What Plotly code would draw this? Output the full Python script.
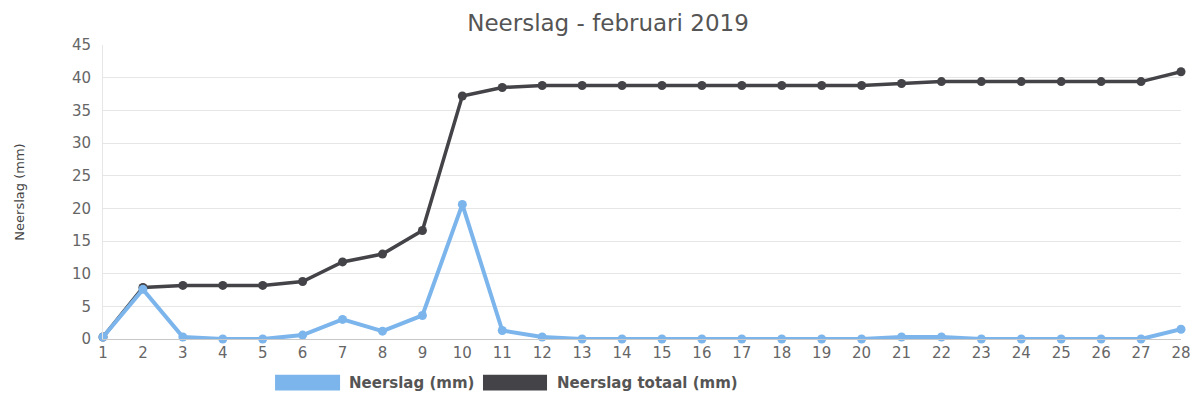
import plotly.graph_objects as go

days = list(range(1, 29))
neerslag = [0.3, 7.6, 0.3, 0.0, 0.0, 0.6, 3.0, 1.2, 3.6, 20.6, 1.3, 0.3, 0.0, 0.0,
            0.0, 0.0, 0.0, 0.0, 0.0, 0.0, 0.3, 0.3, 0.0, 0.0, 0.0, 0.0, 0.0, 1.5]
totaal = [0.3, 7.9, 8.2, 8.2, 8.2, 8.8, 11.8, 13.0, 16.6, 37.2, 38.5, 38.8, 38.8, 38.8,
          38.8, 38.8, 38.8, 38.8, 38.8, 38.8, 39.1, 39.4, 39.4, 39.4, 39.4, 39.4, 39.4, 40.9]
series_names = ["Neerslag (mm)", "Neerslag totaal (mm)"]
colors = ["#7cb5ec", "#434348"]
y_ticks = list(range(0, 50, 5))

FONT = "DejaVu Sans"

fig = go.Figure()
fig.add_trace(go.Scatter(x=days, y=totaal, mode="lines+markers", name=series_names[1],
                         line=dict(color=colors[1], width=3.5),
                         marker=dict(color=colors[1], size=9), showlegend=False,
                         cliponaxis=False))
fig.add_trace(go.Scatter(x=days, y=neerslag, mode="lines+markers", name=series_names[0],
                         line=dict(color=colors[0], width=4),
                         marker=dict(color=colors[0], size=9), showlegend=False,
                         cliponaxis=False))

# manual legend (wide colour rectangles as in the reference)
legend_items = [
    (0.1596, 0.2199, 0.2265, series_names[0], colors[0]),
    (0.3525, 0.4119, 0.4190, series_names[1], colors[1]),
]
for x0, x1, xt, label, col in legend_items:
    fig.add_shape(type="rect", xref="paper", yref="paper", x0=x0, x1=x1,
                  y0=-0.175, y1=-0.122, fillcolor=col, line=dict(width=0))
    fig.add_annotation(xref="paper", yref="paper", x=xt, y=-0.1485, text=f"<b>{label}</b>",
                       showarrow=False, xanchor="left", yanchor="middle",
                       font=dict(family=FONT, size=15, color="#555555"))

fig.update_layout(
    width=1200, height=400,
    margin=dict(l=95, r=27, t=37, b=69, autoexpand=False),
    paper_bgcolor="white", plot_bgcolor="white",
    title=dict(text="Neerslag - februari 2019", x=0.5, xanchor="center",
               yref="container", y=0.962, yanchor="middle", automargin=False,
               font=dict(family=FONT, size=23, color="#555555")),
    xaxis=dict(range=[1, 28], tickmode="array", tickvals=days, ticktext=[str(d) for d in days],
               showgrid=False, zeroline=False, showline=True, linecolor="#c8c8c8", linewidth=1,
               ticks="", automargin=False,
               tickfont=dict(family=FONT, size=15, color="#666666"), fixedrange=True),
    yaxis=dict(range=[0, 45], tickmode="array", tickvals=y_ticks, showgrid=True,
               gridcolor="#e6e6e6", gridwidth=1, zeroline=False, showline=True,
               linecolor="#e6e6e6", ticks="", ticklabelstandoff=8, automargin=False,
               tickfont=dict(family=FONT, size=15, color="#666666"),
               title=dict(text="Neerslag (mm)", standoff=44,
                          font=dict(family=FONT, size=13, color="#444444"))),
)

fig.write_html("out.html")
